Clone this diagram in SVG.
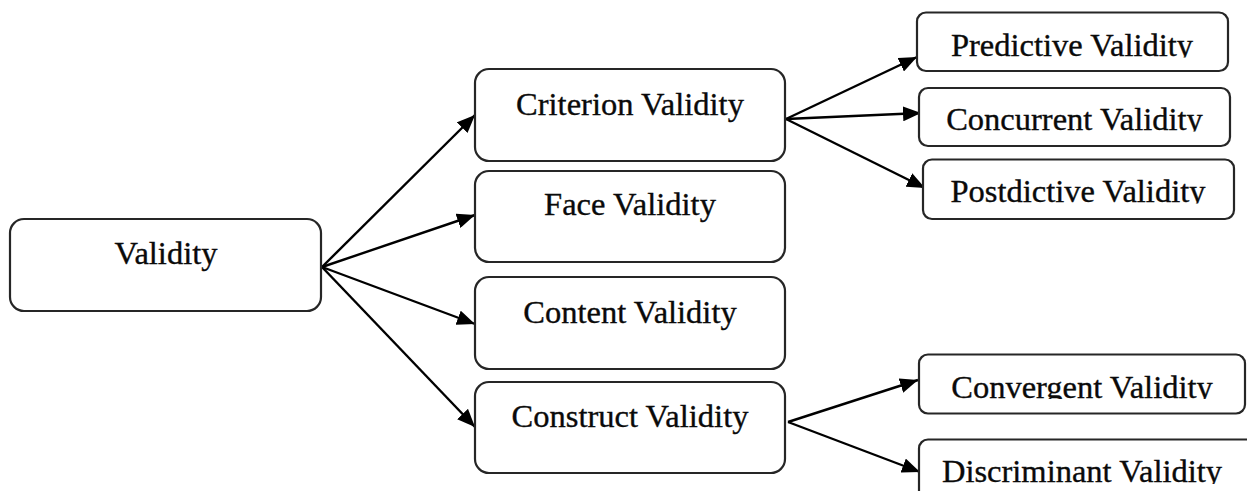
<svg xmlns="http://www.w3.org/2000/svg" width="1247" height="491" viewBox="0 0 1247 491">
  <style>
    .box { fill: #ffffff; stroke: #262626; stroke-width: 2.2; }
    .lbl { font-family: "Liberation Serif", "Times New Roman", serif; font-size: 32.5px; fill: #0a0a0a; stroke: #0a0a0a; stroke-width: 0.35; text-anchor: middle; }
    .edge { stroke: #000000; stroke-width: 2.4; fill: none; marker-end: url(#arrow); }
  </style>
  <defs>
    <marker id="arrow" markerUnits="userSpaceOnUse" markerWidth="19" markerHeight="15" refX="18" refY="7.5" orient="auto">
      <path d="M0,0 L18,7.5 L0,15 z" fill="#000000"/>
    </marker>
    <!-- label windows for the narrow boxes: the text is cut just under the baseline -->
    <clipPath id="cPred"><rect x="917" y="12" width="311" height="45.5"/></clipPath>
    <clipPath id="cConc"><rect x="919" y="88" width="311" height="43.5"/></clipPath>
    <clipPath id="cPost"><rect x="923" y="159" width="311" height="44.5"/></clipPath>
    <clipPath id="cConv"><rect x="919" y="354" width="326" height="45"/></clipPath>
    <clipPath id="cDisc"><rect x="919" y="439" width="328" height="45"/></clipPath>
  </defs>

  <g id="connectors">
    <line class="edge" x1="322" y1="267" x2="475" y2="115"/>
    <line class="edge" x1="322" y1="267" x2="475" y2="215"/>
    <line class="edge" x1="322" y1="267" x2="475" y2="324"/>
    <line class="edge" x1="322" y1="267" x2="475" y2="427"/>
    <line class="edge" x1="786" y1="119" x2="917" y2="57"/>
    <line class="edge" x1="786" y1="119" x2="921" y2="113"/>
    <line class="edge" x1="786" y1="119" x2="925" y2="188"/>
    <line class="edge" x1="788" y1="422" x2="918" y2="380"/>
    <line class="edge" x1="788" y1="422" x2="920" y2="472"/>
  </g>

  <g id="validity">
    <rect class="box" x="10" y="219" width="311" height="92" rx="14"/>
    <text class="lbl" x="166" y="264">Validity</text>
  </g>

  <g id="criterion">
    <rect class="box" x="475" y="69" width="310" height="92" rx="14"/>
    <text class="lbl" x="630" y="115">Criterion Validity</text>
  </g>
  <g id="face">
    <rect class="box" x="475" y="171" width="310" height="91" rx="14"/>
    <text class="lbl" x="630" y="215">Face Validity</text>
  </g>
  <g id="content">
    <rect class="box" x="475" y="277" width="310" height="92" rx="14"/>
    <text class="lbl" x="630" y="323">Content Validity</text>
  </g>
  <g id="construct">
    <rect class="box" x="475" y="382" width="310" height="91" rx="14"/>
    <text class="lbl" x="630" y="427">Construct Validity</text>
  </g>

  <g id="predictive">
    <rect class="box" x="917" y="12.5" width="311" height="58.5" rx="9"/>
    <text class="lbl" x="1072" y="55.5" clip-path="url(#cPred)">Predictive Validity</text>
  </g>
  <g id="concurrent">
    <rect class="box" x="919" y="88" width="311" height="58" rx="9"/>
    <text class="lbl" x="1074.5" y="129.5" clip-path="url(#cConc)">Concurrent Validity</text>
  </g>
  <g id="postdictive">
    <rect class="box" x="923" y="159.5" width="311" height="59.5" rx="9"/>
    <text class="lbl" x="1078" y="201.5" clip-path="url(#cPost)">Postdictive Validity</text>
  </g>
  <g id="convergent">
    <rect class="box" x="919" y="354.5" width="326" height="59" rx="9"/>
    <text class="lbl" x="1082" y="397.5" clip-path="url(#cConv)">Convergent Validity</text>
  </g>
  <g id="discriminant">
    <rect class="box" x="919" y="439.5" width="340" height="70" rx="9"/>
    <text class="lbl" x="1082" y="482" clip-path="url(#cDisc)">Discriminant Validity</text>
  </g>
</svg>
